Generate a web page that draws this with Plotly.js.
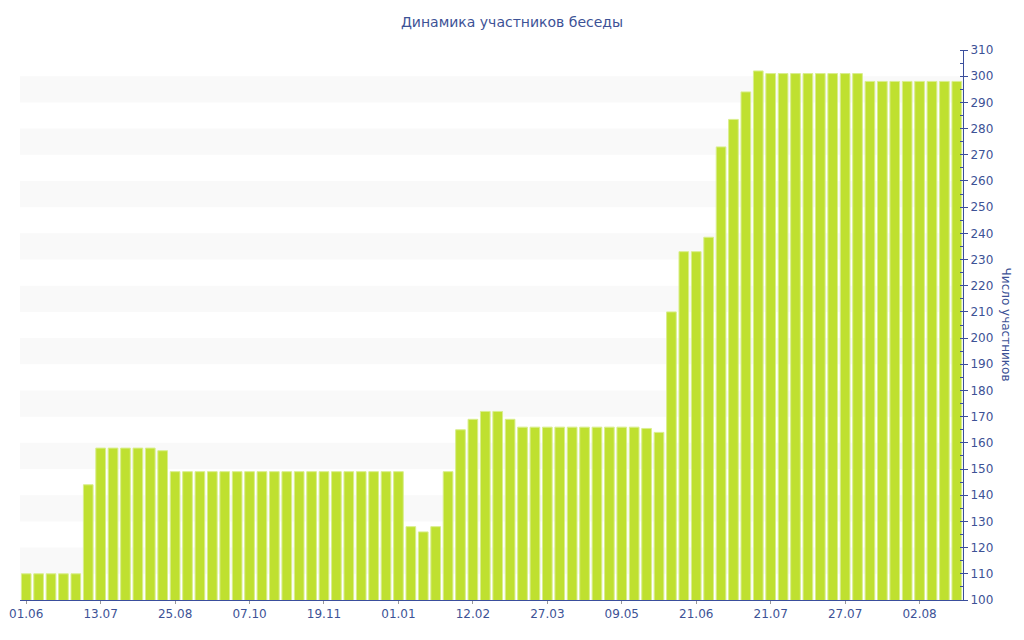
<!DOCTYPE html>
<html>
<head>
<meta charset="utf-8">
<script src="https://cdn.plot.ly/plotly-3.0.1.min.js"></script>
<style>
  html, body { margin: 0; padding: 0; background: #fff; }
  #chart { width: 1024px; height: 640px; }
</style>
</head>
<body>
<div id="chart"></div>
<script>
// participants per period (one bar each)
const members = [
  110, 110, 110, 110, 110, 144, 158, 158, 158, 158,
  158, 157, 149, 149, 149, 149, 149, 149, 149, 149,
  149, 149, 149, 149, 149, 149, 149, 149, 149, 149,
  149, 128, 126, 128, 149, 165, 169, 172, 172, 169,
  166, 166, 166, 166, 166, 166, 166, 166, 166, 166,
  165.5, 164, 210, 233, 233, 238.5, 273, 283.5, 294, 302,
  301, 301, 301, 301, 301, 301, 301, 301, 298, 298,
  298, 298, 298, 298, 298, 298
];

// labelled bars on the x axis
const tickIdx = [0, 6, 12, 18, 24, 30, 36, 42, 48, 54, 60, 66, 72];
const tickLabels = ['01.06', '13.07', '25.08', '07.10', '19.11', '01.01', '12.02',
                    '27.03', '09.05', '21.06', '21.07', '27.07', '02.08'];

const yMin = 100, yMax = 310;
const textColor = '#3d5296';
const axisColor = '#3a4e9c';

const idx = members.map((v, i) => i);

// alternating horizontal bands
const shapes = [];
for (let v = yMin + 10; v < yMax - 10; v += 20) {
  shapes.push({
    type: 'rect', layer: 'below',
    xref: 'paper', x0: 0, x1: 1,
    yref: 'y', y0: v, y1: v + 10,
    fillcolor: '#f9f9f9', line: {width: 0}
  });
}

const trace = {
  type: 'bar',
  x: idx,
  y: members,
  marker: {color: '#bfe030', line: {color: '#d9ee8e', width: 1}},
  hoverinfo: 'y'
};

const layout = {
  width: 1024,
  height: 640,
  margin: {l: 20, r: 61, t: 50, b: 40},
  paper_bgcolor: '#fff',
  plot_bgcolor: '#fff',
  font: {family: 'DejaVu Sans, Verdana, sans-serif', size: 12, color: textColor},
  title: {
    text: 'Динамика участников беседы',
    font: {size: 14, color: textColor},
    x: 0.5, xanchor: 'center', y: 0.965, yanchor: 'middle'
  },
  bargap: 0.22,
  showlegend: false,
  xaxis: {
    range: [-0.5, members.length - 0.5],
    tickvals: tickIdx,
    ticktext: tickLabels,
    showgrid: false,
    zeroline: false,
    showline: true,
    linecolor: axisColor,
    linewidth: 1,
    ticks: 'outside',
    ticklen: 3,
    tickcolor: '#999',
    tickfont: {size: 12, color: textColor},
    fixedrange: true
  },
  yaxis: {
    side: 'right',
    range: [yMin, yMax],
    dtick: 10,
    showgrid: false,
    zeroline: false,
    showline: true,
    linecolor: axisColor,
    linewidth: 1,
    ticks: 'outside',
    ticklen: 4,
    tickcolor: axisColor,
    tickfont: {size: 12, color: textColor},
    minor: {dtick: 5, ticks: 'inside', ticklen: 3, tickcolor: axisColor, showgrid: false},
    fixedrange: true
  },
  shapes: shapes,
  annotations: [{
    text: 'Число участников',
    xref: 'paper', yref: 'paper',
    x: 1.046, y: 0.5,
    xanchor: 'center', yanchor: 'middle',
    textangle: 90,
    showarrow: false,
    font: {size: 12, color: textColor}
  }]
};

Plotly.newPlot('chart', [trace], layout, {displayModeBar: false, staticPlot: true});
</script>
</body>
</html>
